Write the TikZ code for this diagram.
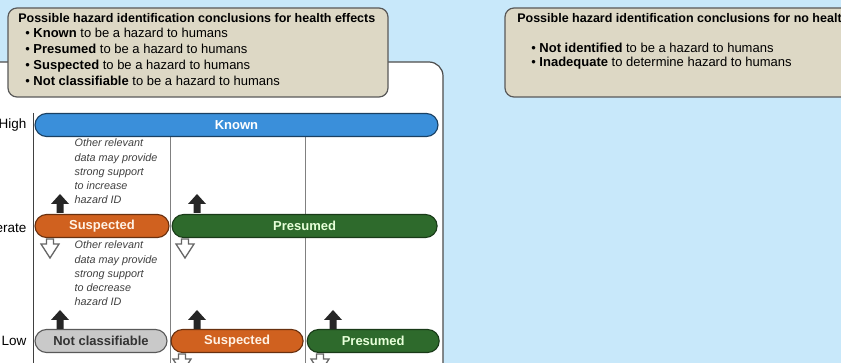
\documentclass[tikz,border=0pt]{standalone}
\usepackage{fontspec}
\setmainfont{Liberation Sans}
\usetikzlibrary{positioning,shapes.misc}

\definecolor{skyback}{HTML}{C8E8FA}
\definecolor{tanbox}{HTML}{DDD8C5}
\definecolor{knownblue}{HTML}{3A8FDA}
\definecolor{susorange}{HTML}{D0611F}
\definecolor{presgreen}{HTML}{2E6A2C}
\definecolor{ncgray}{HTML}{C9C9C9}

% block arrows: x, y of the bar edge
\newcommand\hzup[2]{%
  \fill[uparr] (#1-3.5,#2) -- (#1-3.5,#2-9) -- (#1-9,#2-9) -- (#1,#2-19)
    -- (#1+9,#2-9) -- (#1+3.5,#2-9) -- (#1+3.5,#2) -- cycle;}
\newcommand\hzdown[2]{%
  \filldraw[downarr] (#1-3.5,#2) -- (#1-3.5,#2+5) -- (#1-9,#2+5) -- (#1,#2+19)
    -- (#1+9,#2+5) -- (#1+3.5,#2+5) -- (#1+3.5,#2) -- cycle;}

\begin{document}
\begin{tikzpicture}[
    x=1pt, y=-1pt,
    semithick,
    infobox/.style={draw=black!65, fill=tanbox, rounded corners=9pt, line width=1.2pt},
    bar/.style={rounded rectangle, draw, line width=1.1pt, minimum height=23pt,
        inner sep=0pt, font=\bfseries\fontsize{13}{14}\selectfont},
    knownbar/.style={bar, fill=knownblue, draw=knownblue!45!black, text=white},
    susbar/.style={bar, fill=susorange, draw=susorange!50!black, text=orange!10},
    presbar/.style={bar, fill=presgreen, draw=presgreen!55!black, text=green!50!lime!15},
    ncbar/.style={bar, fill=ncgray, draw=black!65, text=black!80},
    level/.style={anchor=east, font=\fontsize{13.5}{14}\selectfont},
    grid/.style={draw=black!50, thin},
    note/.style={anchor=west, align=left, text=black!75,
        font=\itshape\fontsize{10.8}{14.2}\selectfont},
    uparr/.style={fill=black!85},
    downarr/.style={fill=white, draw=black!60, line width=1.3pt, line join=miter}
]
\useasboundingbox[fill=skyback] (0,0) rectangle (841,363);

% white panel behind the chart
\draw[fill=white, draw=black!70, line width=1.2pt, rounded corners=14pt]
    (-20,380) |- (443,62) -- (443,380);

% legend boxes
\draw[infobox] (8,8) rectangle (388,97);
\node[anchor=west, inner sep=0pt, font=\bfseries\fontsize{12.5}{14}\selectfont]
    (healthttl) at (18,18)
    {Possible hazard identification conclusions for health effects};
\node[anchor=north west, align=left, inner sep=0pt,
      font=\fontsize{13}{16}\selectfont] (healthtxt) at (25,28)
    {\textbullet\ \textbf{Known} to be a hazard to humans\\
     \textbullet\ \textbf{Presumed} to be a hazard to humans\\
     \textbullet\ \textbf{Suspected} to be a hazard to humans\\
     \textbullet\ \textbf{Not classifiable} to be a hazard to humans};

\draw[infobox] (505,8) rectangle (900,97);
\node[anchor=west, inner sep=0pt, font=\bfseries\fontsize{12.5}{14}\selectfont]
    (nohealthttl) at (517,18)
    {Possible hazard identification conclusions for no health effects};
\node[anchor=north west, align=left, inner sep=0pt,
      font=\fontsize{13}{13.5}\selectfont] (nohealthtxt) at (531,43)
    {\textbullet\ \textbf{Not identified} to be a hazard to humans\\
     \textbullet\ \textbf{Inadequate} to determine hazard to humans};

% axis and grid lines
\draw[draw=black!75, line width=1pt] (33,113) -- (33,380);
\draw[grid] (170,130) -- (170,380);
\draw[grid] (305,130) -- (305,380);

\node[level] (high) at (30,125) {High};
\node[level] (moderate) at (30,228) {Moderate};
\node[level] (low) at (30,341) {Low};

% confidence bars
\node[knownbar, minimum width=403pt] (knownhi) at (236.5,125) {Known};
\node[susbar, minimum width=134pt] (susmod) at (102,226) {Suspected};
\node[presbar, minimum width=265pt, right=2pt of susmod] (presmod) {Presumed};
\node[ncbar, minimum width=132pt] (nclow) at (101,341) {Not classifiable};
\node[susbar, minimum width=132pt, right=3pt of nclow] (suslow) {Suspected};
\node[presbar, minimum width=132pt, right=3pt of suslow] (preslow) {Presumed};

% notes
\node[note] (upnote) at (71,171.5)
    {Other relevant\\data may provide\\strong support\\to increase\\hazard ID};
\node[note] (downnote) at (71,273.5)
    {Other relevant\\data may provide\\strong support\\to decrease\\hazard ID};

% arrows
\hzup{60}{213}
\hzup{197}{213}
\hzup{60}{329}
\hzup{197}{329}
\hzup{333}{329}
\hzdown{50}{239}
\hzdown{185}{239}
\hzdown{182}{354}
\hzdown{320}{354}
\end{tikzpicture}
\end{document}
